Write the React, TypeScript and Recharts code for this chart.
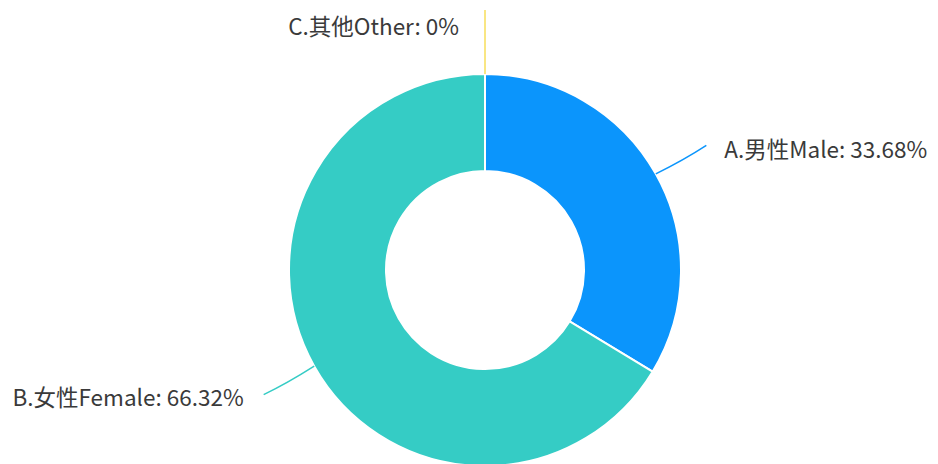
import React from "react";
import { PieChart, Pie, Cell } from "recharts";

const categories = ["A.男性Male", "B.女性Female", "C.其他Other"];
const percents = [33.68, 66.32, 0];
const percentLabels = ["33.68%", "66.32%", "0%"];
const colors = ["#0B95FC", "#35CCC5", "#F7DE5A"];

const data = categories.map((name, i) => ({
  name,
  value: percents[i],
  label: percentLabels[i],
  color: colors[i],
}));

const RAD = Math.PI / 180;

const renderLabel = (props: any) => {
  const { cx, cy, midAngle, outerRadius, index } = props;
  const d = data[index];
  const cos = Math.cos(-midAngle * RAD);
  const sin = Math.sin(-midAngle * RAD);
  const sx = cx + outerRadius * cos;
  const sy = cy + outerRadius * sin;
  const len = Math.abs(cos) < 0.01 ? 64 : 58;
  const ex = cx + (outerRadius + len) * cos;
  const ey = cy + (outerRadius + len) * sin;
  let tx: number;
  let ty: number;
  let anchor: "start" | "end";
  if (cos > 0.01) {
    tx = ex + 18;
    ty = ey + 6;
    anchor = "start";
  } else if (cos < -0.01) {
    tx = ex - 20;
    ty = ey + 5;
    anchor = "end";
  } else {
    tx = ex - 26;
    ty = ey + 19;
    anchor = "end";
  }
  const mx = cx + (outerRadius + len * 0.55) * cos;
  const my = cy + (outerRadius + len * 0.55) * sin;
  return (
    <g key={`lbl-${index}`}>
      <path
        d={`M${sx},${sy} Q${mx},${my + (Math.abs(cos) < 0.01 ? 0 : 2)} ${ex},${ey}`}
        stroke={d.color}
        strokeWidth={1.5}
        fill="none"
      />
      <text
        x={tx}
        y={ty}
        textAnchor={anchor}
        dominantBaseline="middle"
        fill="#3a3a3a"
        fontSize={22.5}
        fontFamily="'Noto Sans CJK SC', 'Noto Sans', sans-serif"
      >
        {`${d.name}: ${d.label}`}
      </text>
    </g>
  );
};

export default function App() {
  return (
    <div style={{ position: "fixed", left: 0, top: 0, width: 938, height: 464, background: "#fff" }}>
      <PieChart width={938} height={464}>
        <Pie
          data={data}
          dataKey="value"
          nameKey="name"
          cx={480}
          cy={265}
          innerRadius={99}
          outerRadius={196}
          startAngle={90}
          endAngle={-270}
          stroke="#ffffff"
          strokeWidth={2}
          label={renderLabel}
          labelLine={false}
          isAnimationActive={false}
        >
          {data.map((d, i) => (
            <Cell key={i} fill={d.color} />
          ))}
        </Pie>
      </PieChart>
    </div>
  );
}
